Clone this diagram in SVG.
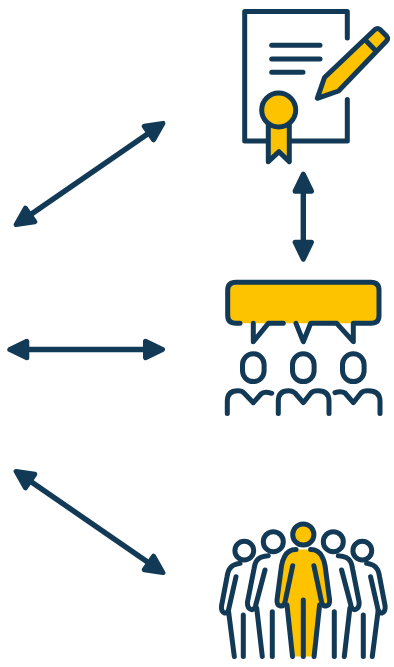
<svg xmlns="http://www.w3.org/2000/svg" width="394" height="667" viewBox="0 0 394 667">
<style>
.l{fill:none;stroke:#123a56;stroke-width:5;stroke-linecap:round;stroke-linejoin:round}
.y{fill:#fdc300;stroke:#123a56;stroke-width:5;stroke-linecap:round;stroke-linejoin:round}
.f{fill:#fdc300;stroke:none}
.c{fill:none;stroke:#123a56;stroke-width:5.4;marker-start:url(#h);marker-end:url(#h)}
</style>
<defs>
<marker id="h" markerUnits="userSpaceOnUse" markerWidth="28" markerHeight="28" viewBox="-4 -14 28 28" refX="12.5" refY="0" orient="auto-start-reverse">
<path d="M1,-8.2 L18,0 L1,8.2 Z" fill="#123a56" stroke="#123a56" stroke-width="5" stroke-linejoin="round"/>
</marker>
<g id="p2">
<circle class="l" cx="273.3" cy="541.7" r="10"/>
<path class="l" d="M268.3,555.7 Q259,556.5 256.5,561 Q255,563 254,569 L247.5,602 Q247,608 251,609.5 Q254,610.5 255.5,606 L265,570"/>
<path class="l" d="M256.7,608 L262.3,656.5"/>
<path class="l" d="M272.3,611.7 L272.3,656.5"/>
</g>
<g id="p1">
<circle class="l" cx="244.3" cy="550.7" r="9.4"/>
<path class="l" d="M240,563.3 Q232,564.5 229.5,569 Q228,571 227,577 L221.5,606 Q221,611.5 224.5,613 Q227.5,613.5 228.5,610 L236,576.7"/>
<path class="l" d="M228.5,611 L234.3,656.5"/>
<path class="l" d="M243.3,615 L243.3,656.5"/>
</g>
</defs>
<g id="connectors">
<path class="c" d="M158.4,126.5 L20.6,221.5"/>
<path class="c" d="M15.3,349.5 L157,349.5"/>
<path class="c" d="M20.6,474.5 L158.4,569.5"/>
<path class="c" d="M303.3,179.7 L303.3,253.7"/>
</g>
<g id="certificate">
<path class="l" d="M347.3,38 L347.3,11.5 L244.7,11.5 L244.7,141 L347.3,141 L347.3,99.5"/>
<path class="l" d="M271.7,45.3 L320,45.3 M271.7,59 L320,59 M271.7,72.3 L303,72.3"/>
<path class="y" d="M268.3,124 L268.3,161.7 L279,151.7 L289.3,161.7 L289.3,124 Z"/>
<circle class="y" cx="278.7" cy="110" r="17"/>
<path class="y" d="M317.3,98.3 L324.5,77.5 L375,29.5 Q377.5,27.5 380,29.5 L386.5,36 Q388.5,38.5 386.5,41 L338.5,91 Z"/>
<path class="l" d="M366,40.7 L375,50"/>
</g>
<g id="meeting">
<path class="f" d="M236,282.3 H371 Q379,282.3 379,290.3 V315.3 Q379,323.3 371,323.3 H236 Q227.7,323.3 227.7,315.3 V290.3 Q227.7,282.3 236,282.3 Z"/>
<path class="l" d="M240,323.3 H236 Q227.7,323.3 227.7,315.3 V290.3 Q227.7,282.3 236,282.3 H371 Q379,282.3 379,290.3 V315.3 Q379,323.3 371,323.3 H353.3 V341.7 L336.7,323.3 H310.7 L303.3,341.7 L296,323.3"/>
<path class="l" d="M253.3,323.3 V341.7 L268.3,323.3 H283.3"/>
<rect class="l" x="242.5" y="353.8" width="21.6" height="27.8" rx="10.8"/>
<rect class="l" x="292.5" y="353.8" width="21.6" height="27.8" rx="10.8"/>
<rect class="l" x="342.5" y="353.8" width="21.6" height="27.8" rx="10.8"/>
<path class="l" d="M227.3,413.5 V401 Q227.3,390.7 238,390.7 Q242,390.7 244,393 L253.3,402.7 L261,394 Q264,390.7 271.7,393.3"/>
<path class="l" d="M278.3,413.5 V401 Q278.3,390.7 288.5,390.7 Q292.5,390.7 295,393 L303.3,402.7 L311,393 Q313,390.7 318,390.7 Q329,390.7 329,401 V413.5"/>
<path class="l" d="M335,392.7 Q341,390.7 345,393 L353.3,402.7 L361,393 Q363,390.7 368,390.7 Q380,390.7 380,401 V413.5"/>
</g>
<g id="people">
<use href="#p1"/>
<use href="#p2"/>
<use href="#p1" transform="translate(606.6 0) scale(-1 1)"/>
<use href="#p2" transform="translate(606.6 0) scale(-1 1)"/>
<path class="f" d="M296,549.5 H310.6 Q318,549.5 322,556.7 Q324,560 325,566 L329,598 Q329.5,604 325.5,605.5 L320,605 L314.3,656.5 H292.3 L286.6,605 L281,605.5 Q277,604 277.6,598 L281.5,566 Q282.5,560 284.5,556.7 Q288.5,549.5 296,549.5 Z"/>
<circle class="y" cx="303.3" cy="534.5" r="10.6"/>
<path class="l" d="M296,549.5 Q288,549.5 284.5,556.7 Q282.5,560 281.5,566 L277,600 Q276.7,605.5 280.5,606 Q284,606.5 285,602 L292.7,565.7"/>
<path class="l" d="M310.6,549.5 Q318.6,549.5 322.1,556.7 Q324.1,560 325.1,566 L329.6,600 Q329.9,605.5 326.1,606 Q322.6,606.5 321.6,602 L313.9,565.7"/>
<path class="l" d="M287,605 L292.5,656.5 M303.3,600 V656.5 M319.6,605 L314.1,656.5"/>
</g>
</svg>
